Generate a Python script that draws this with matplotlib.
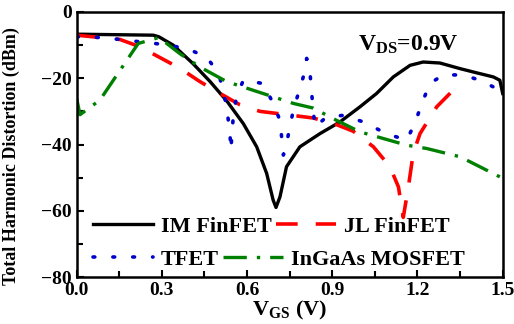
import matplotlib
matplotlib.use("Agg")
import matplotlib.pyplot as plt

plt.rcParams["font.family"] = ["Liberation Serif", "DejaVu Serif"]
plt.rcParams["mathtext.fontset"] = "custom"
plt.rcParams["mathtext.rm"] = "Liberation Serif:bold"
plt.rcParams["mathtext.bf"] = "Liberation Serif:bold"

# IM FinFET (solid black)
im_vgs = [0.0, 0.27, 0.29, 0.34, 0.41, 0.47, 0.53, 0.587, 0.634, 0.669, 0.692, 0.702,
          0.716, 0.739, 0.786, 0.857, 0.927, 0.998, 1.056, 1.115, 1.174, 1.22, 1.279,
          1.35, 1.41, 1.467, 1.49, 1.5]
im_thd = [-6.7, -7.0, -7.5, -10, -15.6, -21, -27, -33.7, -40.7, -48.7, -56.8, -59,
          -55.8, -46.7, -40.7, -36.7, -33.2, -28.6, -24.6, -19.6, -16.1, -15.1, -15.4,
          -17.1, -18.4, -19.6, -20.6, -24.6]

# JL FinFET (red dashed)
jl_vgs = [0.0, 0.153, 0.223, 0.29, 0.364, 0.434, 0.505, 0.575, 0.646, 0.74, 0.833,
          0.915, 0.974, 1.045, 1.103, 1.133, 1.15, 1.168, 1.185, 1.209, 1.268, 1.35]
jl_thd = [-7, -8.3, -10.5, -13.6, -17, -21, -24.6, -28, -30, -31, -32,
          -34, -36, -40.7, -46.7, -52.8, -62, -52.8, -42.7, -36.7, -28.6, -21.5]

# TFET (blue dotted)
tf_vgs = [0.0, 0.082, 0.153, 0.223, 0.305, 0.387, 0.458, 0.5, 0.516, 0.528, 0.54,
          0.543, 0.552, 0.563, 0.587, 0.657, 0.692, 0.716, 0.728, 0.739, 0.763, 0.798,
          0.81, 0.822, 0.827, 0.833, 0.839, 0.88, 0.939, 1.01, 1.09, 1.162, 1.19,
          1.22, 1.244, 1.29, 1.36, 1.42, 1.49]
tf_thd = [-7.5, -7.7, -8.3, -9, -9.8, -11, -13.6, -18.6, -23.6, -28.6, -36.7,
          -41.7, -31, -25.6, -20.6, -21.6, -27.6, -32.7, -43.2, -39.7, -29.6, -19.6,
          -14, -18.6, -24, -29.6, -34.7, -31.7, -31.2, -33.2, -36.7, -38.7, -33.7,
          -26.6, -21.6, -19, -19, -20.6, -23.6]

# InGaAs MOSFET (green dash-dot)
ig_vgs = [0.0, 0.012, 0.082, 0.153, 0.217, 0.29, 0.364, 0.434, 0.528, 0.599, 0.692,
          0.763, 0.833, 0.915, 0.998, 1.162, 1.232, 1.35, 1.5]
ig_thd = [-26, -31, -26.6, -17.6, -9.5, -7.7, -12.6, -16.6, -21, -23, -25.6,
          -27.6, -29, -32.7, -36.2, -40.2, -41.2, -43.7, -50.2]

fig = plt.figure(figsize=(5.14, 3.24), dpi=100)
ax = fig.add_axes([0.149, 0.145, 0.829, 0.818])

l_im, = ax.plot(im_vgs, im_thd, color="black", lw=2.4, label="IM FinFET")
l_jl, = ax.plot(jl_vgs, jl_thd, color="red", lw=2.6, dashes=(6, 5), label="JL FinFET")
l_tf, = ax.plot(tf_vgs, tf_thd, color="#0000cc", lw=2.6, dashes=(0.5, 5),
                dash_capstyle="round", label="TFET")
l_ig, = ax.plot(ig_vgs, ig_thd, color="green", lw=2.4, dashes=(7, 3, 1, 3),
                label="InGaAs MOSFET")

ax.set_xlim(0, 1.5)
ax.set_ylim(-80, 0)
ax.set_xticks([0.0, 0.3, 0.6, 0.9, 1.2, 1.5])
ax.set_xticks([0.15, 0.45, 0.75, 1.05, 1.35], minor=True)
ax.set_yticks([0, -20, -40, -60, -80])
ax.set_yticks([-10, -30, -50, -70], minor=True)
ax.set_xticklabels(["0.0", "0.3", "0.6", "0.9", "1.2", "1.5"])
ax.tick_params(which="both", direction="in", width=1.5, labelsize=14)
ax.tick_params(which="major", length=5)
ax.tick_params(which="minor", length=4)
for lab in ax.get_xticklabels() + ax.get_yticklabels():
    lab.set_fontweight("bold")
for sp in ax.spines.values():
    sp.set_linewidth(1.8)

ax.set_xlabel(r"$\mathbf{V_{GS}}$ (V)", fontsize=16, fontweight="bold", labelpad=0)
ax.set_ylabel("Total Harmonic Distortion (dBm)", fontsize=13, fontweight="bold")
ax.yaxis.set_label_coords(-0.133, 0.457)
ax.text(1.167, -10, r"$\mathbf{V_{DS}}$=0.9V", ha="center", va="center",
        fontsize=17, fontweight="bold")

# two legend rows, each packed left to right like the original
leg_kw = dict(loc="lower left", ncol=2, frameon=False, handlelength=2.7,
              columnspacing=0.2, handletextpad=0.35, borderaxespad=0,
              prop={"weight": "bold", "size": 16})
leg1 = ax.legend([l_im, l_jl], ["IM FinFET", "JL FinFET"],
                 bbox_to_anchor=(0.018, 0.117), **leg_kw)
ax.add_artist(leg1)
ax.legend([l_tf, l_ig], ["TFET", "InGaAs MOSFET"],
          bbox_to_anchor=(0.018, -0.008), **leg_kw)

fig.savefig("out.png", dpi=100)
